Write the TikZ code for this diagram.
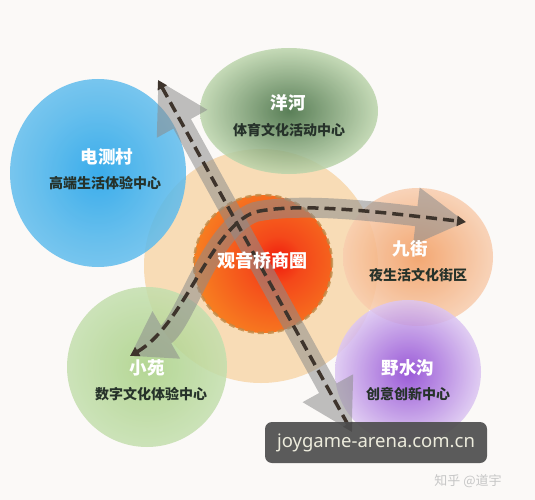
\documentclass[tikz,border=0pt]{standalone}
\usepackage{fontspec}
\newfontfamily\cjk{Noto Sans CJK SC}
\newfontfamily\wmfont{Noto Sans}
\usetikzlibrary{arrows.meta}
\definecolor{bg}{HTML}{FBF9F7}
\definecolor{bigc}{HTML}{F8D5A6}
\definecolor{blueC}{HTML}{1AA0EA}
\definecolor{blueM}{HTML}{4FB6EC}
\definecolor{blueO}{HTML}{A0D3F0}
\definecolor{grnC}{HTML}{3E6A3C}
\definecolor{grnO}{HTML}{BCD5AC}
\definecolor{orgC}{HTML}{F29A5C}
\definecolor{orgO}{HTML}{F8CDAE}
\definecolor{purC}{HTML}{8A3FD2}
\definecolor{purO}{HTML}{DCC6F2}
\definecolor{lgC}{HTML}{A9D184}
\definecolor{lgO}{HTML}{C4DFAE}
\definecolor{redC}{HTML}{F01A0C}
\definecolor{redM}{HTML}{F4481A}
\definecolor{orgM}{HTML}{F88A22}
\definecolor{redO}{HTML}{F9B43C}
\definecolor{ringc}{HTML}{C08A48}
\definecolor{bandc}{HTML}{8C8C8C}
\definecolor{dashc}{HTML}{3E342C}
\definecolor{subc}{HTML}{26322A}
\definecolor{wmbg}{HTML}{4E4E4E}
\definecolor{wmtx}{HTML}{ECEBDC}
\definecolor{zhc}{HTML}{C6C6C6}
\pgfdeclareradialshading{coreshade}{\pgfpoint{0bp}{0bp}}{color(0bp)=(redC); color(7bp)=(redM); color(28bp)=(orgM); color(50bp)=(redO)}
\pgfdeclareradialshading{blueshade}{\pgfpoint{0bp}{0bp}}{color(0bp)=(blueC); color(18bp)=(blueM); color(50bp)=(blueO)}
\tikzset{
  blob/.style={opacity=0.85},
  band/.style={draw=bandc, line width=20pt},
  dashline/.style={draw=dashc, line width=3.5pt, dash pattern=on 11pt off 6pt},
  title/.style={font=\cjk\bfseries\fontsize{17.5}{19}\selectfont, text=white},
  subt/.style={font=\cjk\bfseries\fontsize{14}{16}\selectfont, text=subc},
}
\begin{document}
\begin{tikzpicture}[x=1pt,y=-1pt]
\useasboundingbox (0,0) rectangle (535,500);
\fill[bg] (0,0) rectangle (535,500);

% big pale circle
\fill[bigc, fill opacity=0.8] (261,266) circle (117pt);

% blobs
\shade[blob, shading=blueshade] (98,173) ellipse [x radius=88pt, y radius=94pt];
\shade[blob, inner color=grnC, outer color=grnO] (289,111) ellipse [x radius=89pt, y radius=63pt];
\shade[blob, inner color=orgC, outer color=orgO] (418,257) ellipse [x radius=75pt, y radius=69pt];
\shade[blob, inner color=purC, outer color=purO] (408,372) ellipse [x radius=73pt, y radius=72pt];
\shade[blob, inner color=lgC, outer color=lgO] (147,367) circle (80pt);

% inner core circle
\begin{scope}
  \clip (263,264) circle (69pt);
  \shade[shading=coreshade] (278,260) circle (86pt);
\end{scope}
\draw[ringc, line width=2.5pt, dash pattern=on 6pt off 4pt, opacity=0.8] (263,264) circle (69pt);

% arrow end points
\coordinate (p1) at (158,80);
\coordinate (p2) at (352,432);
\coordinate (c1) at (130,356);
\coordinate (c2) at (466,222);

% wide translucent bands
\begin{scope}[transparency group, opacity=0.55]
  \draw[band, {Triangle[length=50pt,width=54pt]}-{Triangle[length=50pt,width=54pt]}] (p1) -- (p2);
\end{scope}
\begin{scope}[transparency group, opacity=0.55]
  \draw[band, {Triangle[length=42pt,width=52pt]}-{Triangle[length=50pt,width=54pt]}] (c1) .. controls (185,324) and (210,228) .. (255,212) .. controls (300,202) and (380,212) .. (c2);
\end{scope}

% dashed centre lines
\draw[dashline, {Triangle[length=9pt,width=10pt]}-{Triangle[length=9pt,width=10pt]}] (p1) -- (p2);
\draw[dashline, {Triangle[length=9pt,width=10pt]}-{Triangle[length=9pt,width=10pt]}] (c1) .. controls (185,324) and (210,228) .. (255,212) .. controls (300,202) and (380,212) .. (c2);

% labels
\node[title] (t1) at (107,157) {电测村};
\node[subt] (s1) at (105,183) {高端生活体验中心};
\node[title] (t2) at (288,103) {洋河};
\node[subt] (s2) at (289,130) {体育文化活动中心};
\node[title] (t3) at (410,249) {九街};
\node[subt] (s3) at (418,275) {夜生活文化街区};
\node[title, font=\cjk\bfseries\fontsize{18}{20}\selectfont] (t0) at (262,261) {观音桥商圈};
\node[title] (t4) at (147,368) {小苑};
\node[subt] (s4) at (151,394) {数字文化体验中心};
\node[title] (t5) at (408,368) {野水沟};
\node[subt] (s5) at (408,394) {创意创新中心};

% watermark box
\node[fill=wmbg, fill opacity=0.92, text opacity=1, text=wmtx, rounded corners=7pt,
      minimum width=222pt, minimum height=41pt, inner sep=0pt,
      font=\wmfont\fontsize{18.5}{20}\selectfont] (wm) at (376,442.5) {joygame-arena.com.cn};
\node[text=zhc, font=\cjk\fontsize{13}{15}\selectfont] (zh) at (468,481) {知乎 @道宇};
\end{tikzpicture}
\end{document}
